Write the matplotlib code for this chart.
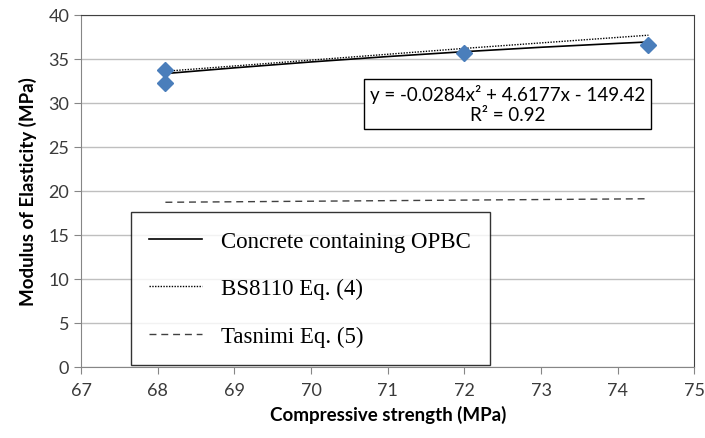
import matplotlib.pyplot as plt
import numpy as np

# measured points
strength = [68.1, 68.1, 72.0, 74.4]
modulus = [33.7, 32.3, 35.7, 36.6]

# trendline coefficients shown on the chart (quadratic)
trend_coef = [-0.0284, 4.6177, -149.42]
trend_x = [68.1, 69.0, 70.0, 71.0, 72.0, 73.0, 74.0, 74.4]

# code predictions
bs8110_x = [68.1, 72.0, 74.4]
bs8110_y = [33.6, 36.2, 37.7]
tasnimi_x = [68.1, 74.4]
tasnimi_y = [18.7, 19.1]

xticks = [67, 68, 69, 70, 71, 72, 73, 74, 75]
yticks = [0, 5, 10, 15, 20, 25, 30, 35, 40]

SANS = "Lato"
SERIF = "Liberation Serif"

fig = plt.figure(figsize=(7.05, 4.39), dpi=100)
ax = fig.add_axes([0.115, 0.1624, 0.870, 0.8012])

ax.set_xlim(67, 75)
ax.set_ylim(0, 40)
ax.set_xticks(xticks)
ax.set_yticks(yticks)
ax.yaxis.grid(True, color="#bfbfbf", lw=1.0)
ax.set_axisbelow(True)

for side in ("top", "right"):
    ax.spines[side].set_color("#404040")
for side in ("left", "bottom"):
    ax.spines[side].set_color("#868686")
ax.tick_params(direction="out", length=5, color="#868686", labelsize=13,
               labelcolor="#3a3a3a")
ax.tick_params(axis="x", pad=6)
for lab in ax.get_xticklabels() + ax.get_yticklabels():
    lab.set_family(SANS)

tx = np.array(trend_x)
ax.plot(tx, np.polyval(trend_coef, tx), color="black", lw=1.2,
        label="Concrete containing OPBC", zorder=3)
ax.plot(bs8110_x, bs8110_y, color="black", lw=1.0, ls=(0, (1, 1)),
        label="BS8110 Eq. (4)", zorder=3)
ax.plot(tasnimi_x, tasnimi_y, color="#404040", lw=1.0, ls=(0, (5, 3.5)),
        label="Tasnimi Eq. (5)", zorder=3)
ax.plot(strength, modulus, ls="none", marker="D", ms=8, color="#4a7ebb",
        zorder=4)

ax.text(72.56, 29.9,
        "y = -0.0284x\u00b2 + 4.6177x - 149.42\nR\u00b2 = 0.92",
        ha="center", va="center", fontsize=13.5, family=SANS,
        linespacing=1.2, color="black",
        bbox=dict(boxstyle="square,pad=0.3", fc="white", ec="black", lw=1.0))

leg = ax.legend(loc="lower left", bbox_to_anchor=(0.081, 0.005, 0.586, 0.435),
                mode="expand", prop={"family": SERIF, "size": 16.5},
                frameon=True, fancybox=False, edgecolor="black",
                borderpad=0.8, labelspacing=1.15, handlelength=2.3,
                handletextpad=0.85, borderaxespad=0)
leg.get_frame().set_linewidth(1.0)

ax.set_xlabel("Compressive strength (MPa)", family=SANS, fontweight="bold",
              fontsize=13.5, labelpad=5)
ax.set_ylabel("Modulus of Elasticity (MPa)", family=SANS, fontweight="bold",
              fontsize=13.5, labelpad=8)

fig.savefig("out.png", dpi=100)
